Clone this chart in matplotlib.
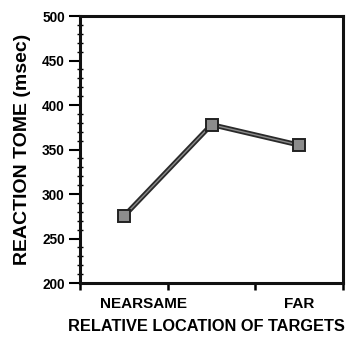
import matplotlib
matplotlib.use("Agg")
import matplotlib.pyplot as plt
import numpy as np

categories = ["NEAR", "SAME", "FAR"]
reaction_ms = [275, 378, 355]
tick_text = ["NEARSAME", "FAR"]

plt.rcParams['font.family'] = ['Liberation Sans', 'DejaVu Sans']
plt.rcParams['font.weight'] = 'bold'

fig = plt.figure(figsize=(3.57, 3.42), dpi=100)
ax = fig.add_axes([0.224, 0.1725, 0.737, 0.7805])

x = np.arange(len(categories)) + 0.5
ax.plot(x, reaction_ms, color='#2a2a2a', lw=3.6, zorder=2, solid_capstyle='round')
ax.plot(x, reaction_ms, color='#8a8a8a', lw=1.0, zorder=3)
ax.plot(x, reaction_ms, ls='none', marker='s', ms=8.5, mfc='#8c8c8c',
        mec='#222222', mew=1.4, zorder=4)

ax.set_xlim(0, 3)
ax.set_ylim(200, 500)

ax.set_xticks([0, 1, 2, 3])
ax.set_xticklabels([])
ax.set_xticks([0.72, 2.5], minor=True)
ax.set_xticklabels(tick_text, minor=True)
ax.tick_params(axis='x', which='major', direction='out', length=5, width=1.8)
ax.tick_params(axis='x', which='minor', length=0, pad=10, labelsize=11)

ax.set_yticks(np.arange(200, 501, 50))
ax.set_yticks(np.arange(200, 501, 10), minor=True)
ax.tick_params(axis='y', which='major', direction='out', length=8, width=1.5,
               labelsize=9.8, pad=3)
ax.tick_params(axis='y', which='minor', direction='inout', length=4, width=1.0)

for s in ax.spines.values():
    s.set_linewidth(2.2)
    s.set_color('#111111')

ax.set_xlabel("RELATIVE LOCATION OF TARGETS", fontsize=11.8, fontweight='bold')
ax.xaxis.set_label_coords(0.48, -0.135)
ax.set_ylabel("REACTION TOME (msec)", fontsize=14, fontweight='bold', labelpad=8)

fig.savefig("out.png", dpi=100)
